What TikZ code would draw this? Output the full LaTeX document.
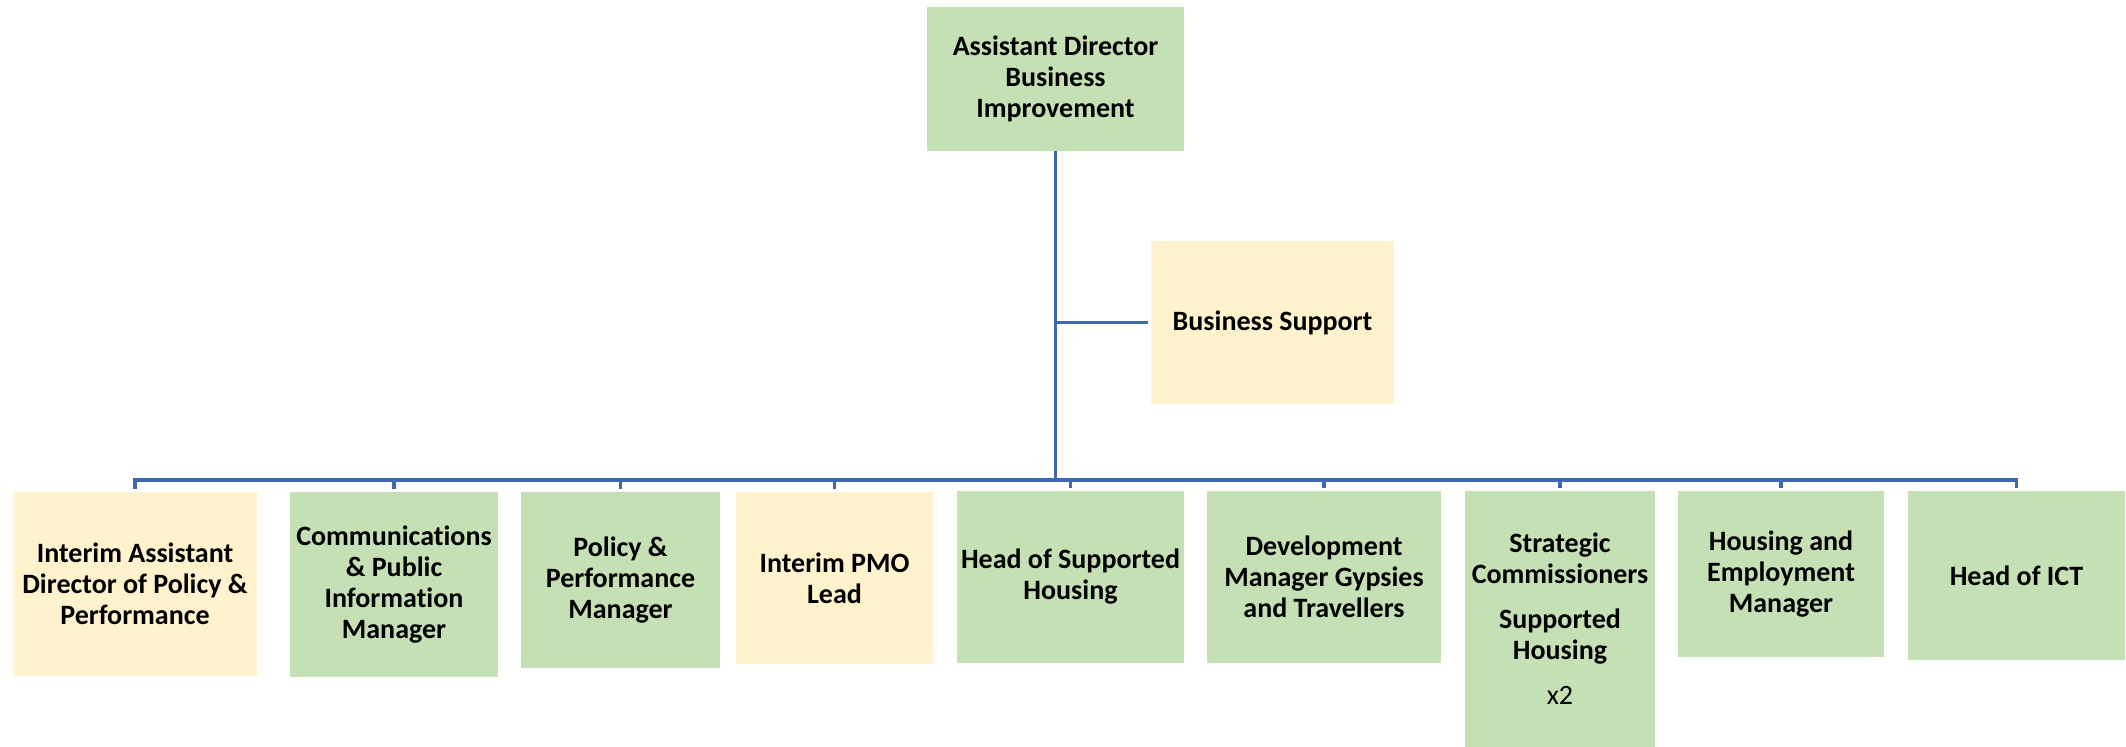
\documentclass[tikz,border=0pt]{standalone}
\usepackage{fontspec}
\setmainfont{Carlito}[Ligatures=NoCommon]
\definecolor{gbox}{HTML}{C5E0B4}
\definecolor{ybox}{HTML}{FFF2CC}
\definecolor{linec}{HTML}{4068B0}
\begin{document}
\begin{tikzpicture}[x=0.5pt,y=-0.5pt,
  box/.style={fill=#1, draw=none, align=center, inner sep=0pt,
    font=\fontsize{14}{15.5}\selectfont\bfseries},
  conn/.style={draw=linec, line width=1.6pt}]
\useasboundingbox (0,0) rectangle (2126,747);
\node[box=gbox, minimum width=128.5pt, minimum height=72pt] (top) at (1055.5,79) {Assistant Director\\Business\\Improvement};
\node[box=ybox, minimum width=121.5pt, minimum height=81.5pt] (bs) at (1272.5,322.5) {Business Support};
\node[box=ybox, minimum width=122pt, minimum height=92pt] (b1) at (135,584) {Interim Assistant\\Director of Policy \&\\Performance};
\node[box=gbox, minimum width=104pt, minimum height=92.5pt] (b2) at (394,584.5) {Communications\\\& Public\\Information\\Manager};
\node[box=gbox, minimum width=99.5pt, minimum height=88pt] (b3) at (620.5,580) {Policy \&\\Performance\\Manager};
\node[box=ybox, minimum width=98.5pt, minimum height=86pt] (b4) at (834.5,578) {Interim PMO\\Lead};
\node[box=gbox, minimum width=113.5pt, minimum height=86pt] (b5) at (1070.5,577) {Head of Supported\\Housing};
\node[box=gbox, minimum width=117pt, minimum height=86pt] (b6) at (1324,577) {Development\\Manager Gypsies\\and Travellers};
\node[box=gbox, minimum width=95pt, minimum height=128pt] (b7) at (1560,619) {Strategic\\Commissioners\\[7pt]Supported\\Housing\\[7pt]\mdseries x2};
\node[box=gbox, minimum width=103pt, minimum height=83pt] (b8) at (1781,574) {Housing and\\Employment\\Manager};
\node[box=gbox, minimum width=108.5pt, minimum height=84.5pt] (b9) at (2016.5,575.5) {Head of ICT};
\coordinate (bus) at (1055,480);
\draw[conn] (top.south) -- (top.south |- bus);
\draw[conn] (top.south |- bs.west) -- ([xshift=-1.5pt]bs.west);
\foreach \b in {b1,b2,b3,b4,b5,b6,b7,b8,b9}
  \draw[conn] (top.south |- bus) -| ([yshift=1.5pt]\b.north);
\end{tikzpicture}
\end{document}
